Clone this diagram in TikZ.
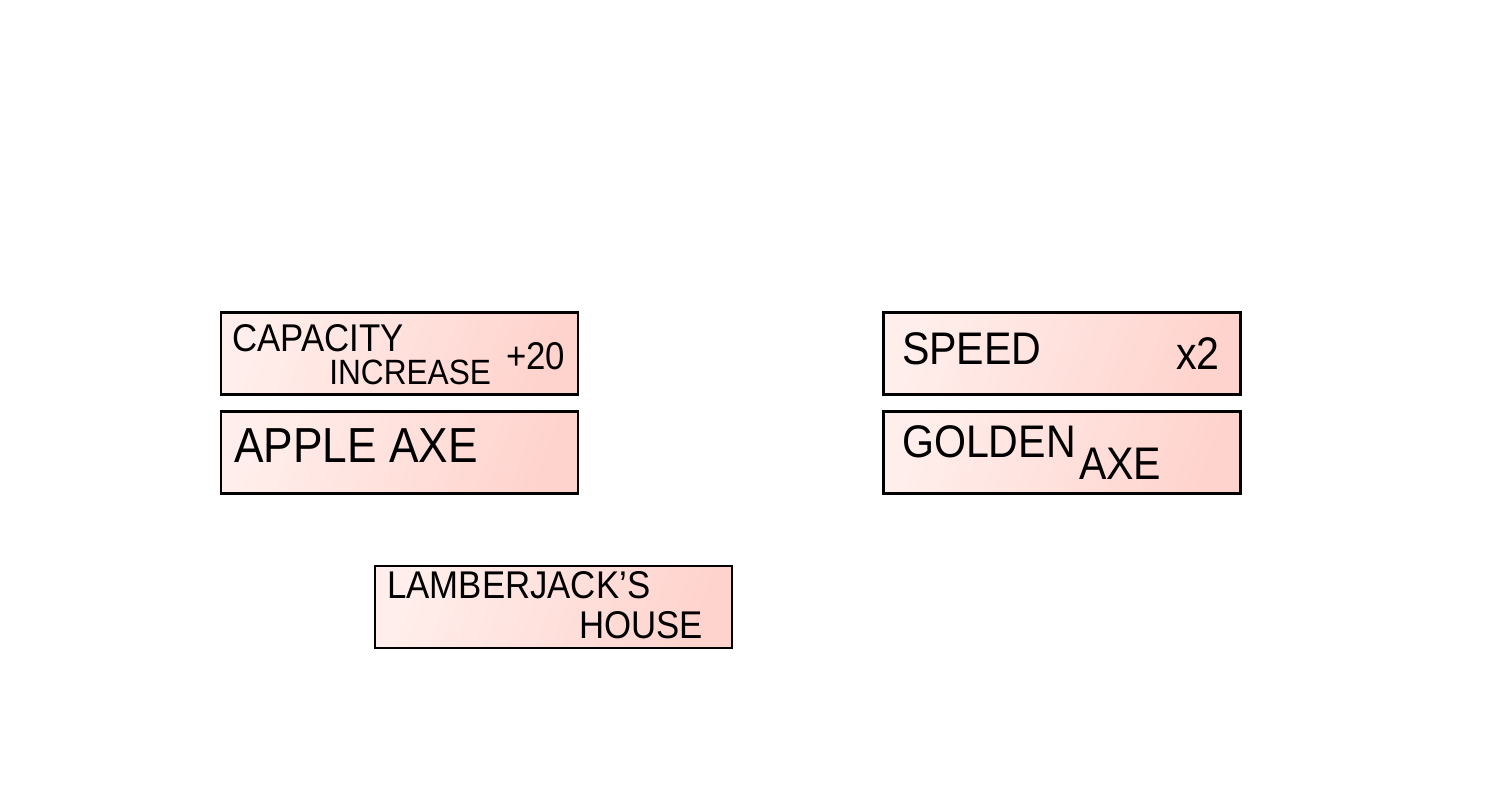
\documentclass[tikz,border=0pt]{standalone}
\usepackage{fontspec}
\setmainfont{Liberation Sans}[FakeStretch=0.9]
\usepackage{tikz}
\usetikzlibrary{positioning}

\definecolor{cardLight}{HTML}{FFEEEB}
\definecolor{cardDark}{HTML}{FFD3CD}

\tikzset{
	card/.style={draw=black, line width=0.8pt, minimum width=3.57cm, minimum height=0.82cm,
		inner sep=0pt, left color=cardLight, right color=cardDark, shading angle=70},
	hand/.style={inner sep=0pt, anchor=base west, text=black},
	handXS/.style={hand, font=\fontsize{10}{12}\selectfont},
	handS/.style={hand, font=\fontsize{11}{13}\selectfont},
	handM/.style={hand, font=\fontsize{13}{15}\selectfont},
	handL/.style={hand, font=\fontsize{14}{16}\selectfont}
}

\begin{document}
\begin{tikzpicture}[auto,node distance=0.14cm and 3.03cm]
			\useasboundingbox (0,0) rectangle (15,8);
			\node[card] (nodeCapacity) at (3.995,4.465) {};
			\node[card] (nodeApple) [below = of nodeCapacity] {};
			\node[card] (nodeSpeed) [right = of nodeCapacity] {};
			\node[card] (nodeGolden) [below = of nodeSpeed] {};
			\node[card] (nodeHouse) at (5.535,1.93) {};
			% texts
			\node[handS] (txtCapacity) at ([shift={(0.12,-0.40)}]nodeCapacity.north west) {CAPACITY};
			\node[handXS] (txtIncrease) at ([shift={(1.09,-0.73)}]nodeCapacity.north west) {INCREASE};
			\node[handS] (txtPlus) at ([shift={(2.86,-0.58)}]nodeCapacity.north west) {+20};
			\node[handL] (txtApple) at ([shift={(0.14,-0.53)}]nodeApple.north west) {APPLE AXE};
			\node[handM] (txtSpeed) at ([shift={(0.19,-0.53)}]nodeSpeed.north west) {SPEED};
			\node[handM] (txtTimes) at ([shift={(2.93,-0.58)}]nodeSpeed.north west) {x2};
			\node[handM] (txtGolden) at ([shift={(0.19,-0.48)}]nodeGolden.north west) {GOLDEN};
			\node[handM] (txtAxe) at ([shift={(1.96,-0.70)}]nodeGolden.north west) {AXE};
			\node[handS] (txtLamber) at ([shift={(0.13,-0.34)}]nodeHouse.north west) {LAMBERJACK'S};
			\node[handS] (txtHouse) at ([shift={(2.05,-0.74)}]nodeHouse.north west) {HOUSE};
		\end{tikzpicture}
\end{document}
